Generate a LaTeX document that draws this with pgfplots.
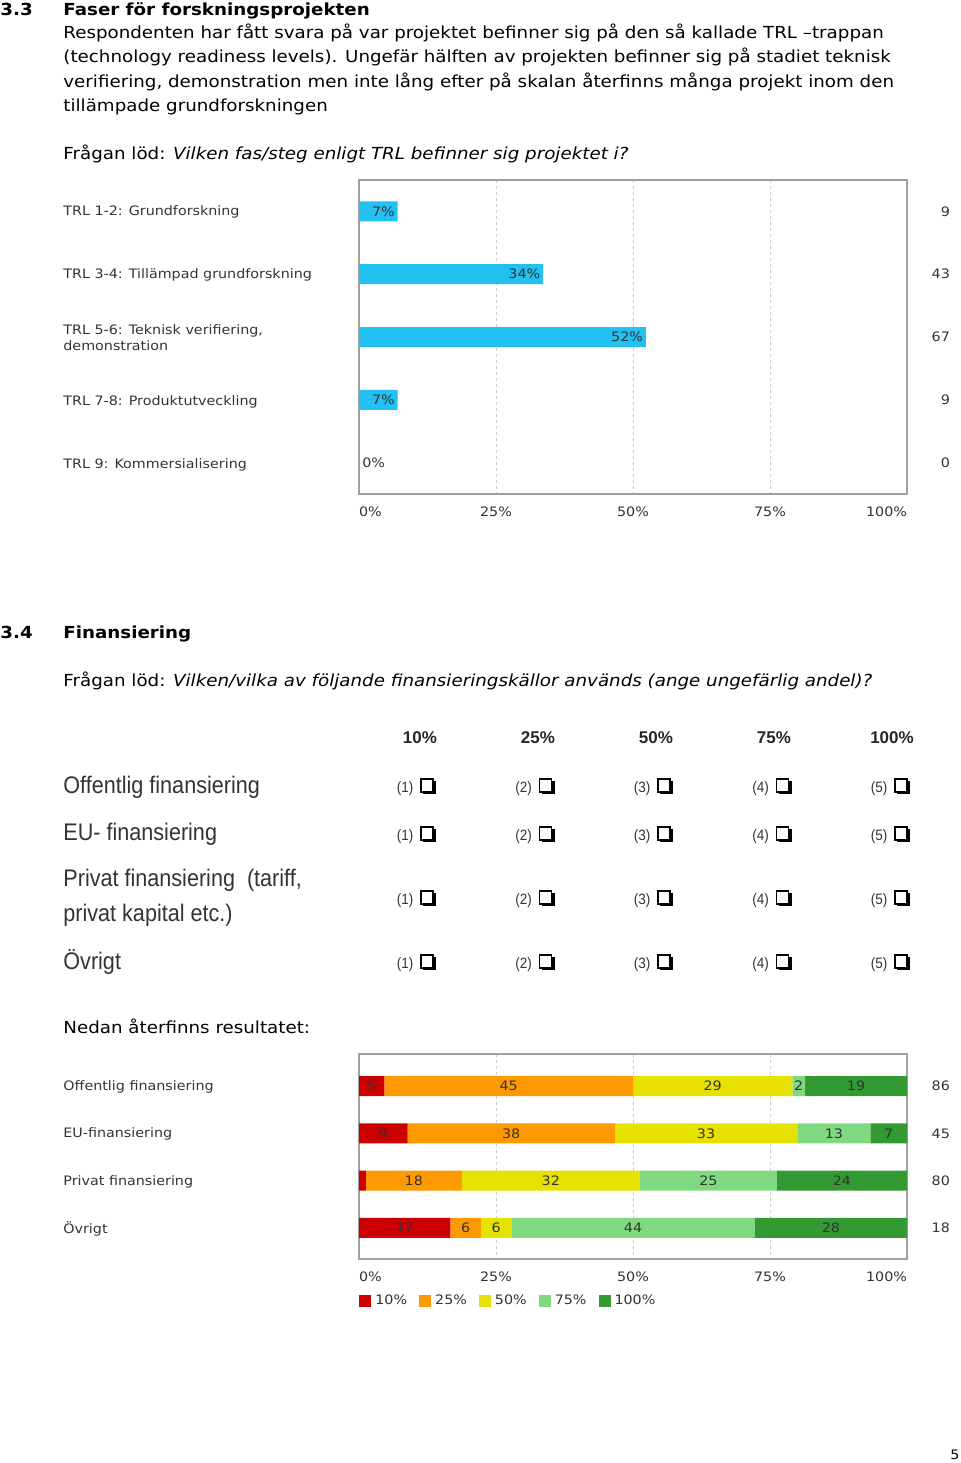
\documentclass[border=0pt]{standalone}
\usepackage{fontspec}
\setmainfont{DejaVu Sans}[FakeStretch=1.1]
\newfontfamily\arialn[FakeStretch=0.9]{Liberation Sans}
\newfontfamily\arialb{Liberation Sans}
\usepackage{pgfplots}
\pgfplotsset{compat=1.18}
\definecolor{barblue}{HTML}{22C1F1}
\definecolor{c10}{HTML}{CC0000}
\definecolor{c25}{HTML}{FF9900}
\definecolor{c50}{HTML}{E6E100}
\definecolor{c75}{HTML}{80D880}
\definecolor{c100}{HTML}{339933}
\definecolor{axgray}{HTML}{A0A0A0}
\definecolor{txt}{HTML}{333333}
\newcommand\fbody{\fontsize{8.3pt}{12pt}\selectfont}
\newcommand\fsmall{\fontsize{6.5pt}{8pt}\selectfont}
\pgfplotsset{
  mychart/.style={
    scale only axis, width=274pt, xmin=0, xmax=100, y dir=reverse,
    ytick=\empty, xtick={0,25,50,75,100},
    xticklabels={\makebox[0pt][l]{0\%},25\%,50\%,75\%,\makebox[0pt][r]{100\%}},
    xmajorgrids, grid style={gray!40, line width=0.4pt, dash pattern=on 1.5pt off 1.5pt},
    axis line style={axgray, line width=0.8pt},
    major tick length=0pt,
    tick label style={font=\fsmall, text=txt},
    xticklabel style={yshift=-3pt},
    /pgf/number format/assume math mode=true,
    clip=false,
  },
  legimg/.style={legend image code/.code={\draw[##1, draw=none] (0pt,-3pt) rectangle (6pt,3pt);}},
}
\begin{document}
\begin{tikzpicture}
\path[use as bounding box] (0pt,0pt) rectangle (480pt,-731.5pt);
\begin{scope}[x=0.5pt,y=-0.5pt]
% ---- 3.3 ----
\node[anchor=base west, inner sep=0pt, font=\fbody\bfseries] at (0,15) {3.3};
\node[anchor=base west, inner sep=0pt, font=\fbody\bfseries] at (63,15) {Faser för forskningsprojekten};
\node[anchor=base west, inner sep=0pt, font=\fbody] at (63,38) {Respondenten har fått svara på var projektet befinner sig på den så kallade TRL –trappan};
\node[anchor=base west, inner sep=0pt, font=\fbody] at (63,62) {(technology readiness levels). Ungefär hälften av projekten befinner sig på stadiet teknisk};
\node[anchor=base west, inner sep=0pt, font=\fbody] at (63,87) {verifiering, demonstration men inte lång efter på skalan återfinns många projekt inom den};
\node[anchor=base west, inner sep=0pt, font=\fbody] at (63,111) {tillämpade grundforskningen};
\node[anchor=base west, inner sep=0pt, font=\fbody] at (63,159) {Frågan löd: \textit{Vilken fas/steg enligt TRL befinner sig projektet i?}};
% chart 1 labels
\node[anchor=west, inner sep=0pt, font=\fsmall, text=txt] at (63,212) {TRL 1-2: Grundforskning};
\node[anchor=west, inner sep=0pt, font=\fsmall, text=txt] at (63,275) {TRL 3-4: Tillämpad grundforskning};
\node[anchor=west, inner sep=0pt, font=\fsmall, text=txt, align=left] at (63,338) {TRL 5-6: Teknisk verifiering,\\demonstration};
\node[anchor=west, inner sep=0pt, font=\fsmall, text=txt] at (63,402) {TRL 7-8: Produktutveckling};
\node[anchor=west, inner sep=0pt, font=\fsmall, text=txt] at (63,465) {TRL 9: Kommersialisering};
% ---- 3.4 ----
\node[anchor=base west, inner sep=0pt, font=\fbody\bfseries] at (0,638) {3.4};
\node[anchor=base west, inner sep=0pt, font=\fbody\bfseries] at (63,638) {Finansiering};
\node[anchor=base west, inner sep=0pt, font=\fbody] at (63,686) {Frågan löd: \textit{Vilken/vilka av följande finansieringskällor används (ange ungefärlig andel)?}};
% form
\foreach \h [count=\i from 0] in {10,25,50,75,100}{
  \node[font=\arialb\fontsize{8.5pt}{9pt}\selectfont\bfseries, text=black!85] at (420+118*\i,738) {\h\%};
}
\node[anchor=west, inner sep=0pt, font=\arialn\fontsize{12pt}{13pt}\selectfont, text=txt] at (63,787) {Offentlig finansiering};
\node[anchor=west, inner sep=0pt, font=\arialn\fontsize{12pt}{13pt}\selectfont, text=txt] at (63,834) {EU- finansiering};
\node[anchor=west, inner sep=0pt, font=\arialn\fontsize{12pt}{13pt}\selectfont, text=txt] at (63,880) {Privat finansiering\ \ (tariff,};
\node[anchor=west, inner sep=0pt, font=\arialn\fontsize{12pt}{13pt}\selectfont, text=txt] at (63,915) {privat kapital etc.)};
\node[anchor=west, inner sep=0pt, font=\arialn\fontsize{12pt}{13pt}\selectfont, text=txt] at (63,962) {Övrigt};
\foreach \r in {787,835,899,963}{
  \foreach \k [count=\i] in {0,1,2,3,4}{
    \pgfmathsetmacro\xl{405+118.5*\k}
    \pgfmathsetmacro\xb{421+118.5*\k}
    \node[font=\arialn\fontsize{7.5pt}{8pt}\selectfont, text=txt] at (\xl,\r+2) {(\i)};
    \fill[black] (\xb+2,\r-6) rectangle (\xb+15,\r+7);
    \fill[white] (\xb,\r-8) rectangle (\xb+12,\r+5);
    \draw[black,line width=0.7pt] (\xb,\r-8) rectangle (\xb+12,\r+5);
  }
}
\node[anchor=base west, inner sep=0pt, font=\fbody] at (63,1033) {Nedan återfinns resultatet:};
% chart 2 labels
\node[anchor=west, inner sep=0pt, font=\fsmall, text=txt] at (63,1087) {Offentlig finansiering};
\node[anchor=west, inner sep=0pt, font=\fsmall, text=txt] at (63,1134) {EU-finansiering};
\node[anchor=west, inner sep=0pt, font=\fsmall, text=txt] at (63,1182) {Privat finansiering};
\node[anchor=west, inner sep=0pt, font=\fsmall, text=txt] at (63,1229) {Övrigt};
\node[font=\fsmall] at (955,1455) {5};
\end{scope}

% ---- chart 1 ----
\begin{axis}[mychart, at={(179.5pt,-247pt)}, anchor=south west, height=157pt,
  ymin=0.5, ymax=5.5, xbar, bar width=10pt, bar shift=0pt, point meta=x]
\addplot[fill=barblue, draw=none,
  nodes near coords={\pgfmathprintnumber[fixed,precision=0]{\pgfplotspointmeta}\%},
  nodes near coords style={anchor=east, inner sep=1.2pt, font=\fsmall, text=txt}]
  coordinates {(7.03,1) (33.59,2) (52.34,3) (7.03,4)};
\addplot[fill=barblue, draw=none,
  nodes near coords={0\%},
  nodes near coords style={anchor=west, inner sep=1.5pt, font=\fsmall, text=txt}]
  coordinates {(0,5)};
\foreach \n [count=\i] in {9,43,67,9,0}{
  \edef\tmp{\noexpand\node[anchor=east, xshift=25pt, font=\noexpand\fsmall, text=txt] at (axis cs:100,\i) {\n};}
  \tmp
}
\end{axis}

% ---- chart 2 ----
\begin{axis}[mychart, at={(179.5pt,-629.5pt)}, anchor=south west, height=102.5pt,
  ymin=0.32, ymax=4.66, xbar stacked, bar width=10pt,
  point meta=explicit symbolic,
  visualization depends on=rawx \as \rawx,
  nodes near coords={\ifdim\rawx pt<1.5pt\else\pgfplotspointmeta\fi},
  nodes near coords style={anchor=center, font=\fsmall, text=txt},
  legend columns=-1,
  legend style={at={(0,-0.205)}, anchor=west, draw=none, fill=none, font=\fsmall, text=txt, inner sep=0pt,
    /tikz/every even column/.append style={column sep=4pt}},
]
\addplot[fill=c10, draw=none, legimg] coordinates {(4.65,1)[5] (8.89,2)[9] (1.25,3)[1] (16.67,4)[17]};
\addplot[fill=c25, draw=none, legimg] coordinates {(45.35,1)[45] (37.78,2)[38] (17.5,3)[18] (5.56,4)[6]};
\addplot[fill=c50, draw=none, legimg] coordinates {(29.07,1)[29] (33.33,2)[33] (32.5,3)[32] (5.56,4)[6]};
\addplot[fill=c75, draw=none, legimg] coordinates {(2.33,1)[2] (13.33,2)[13] (25,3)[25] (44.44,4)[44]};
\addplot[fill=c100, draw=none, legimg] coordinates {(18.6,1)[19] (6.67,2)[7] (23.75,3)[24] (27.78,4)[28]};
\legend{10\%,25\%,50\%,75\%,100\%}
\foreach \n [count=\i] in {86,45,80,18}{
  \edef\tmp{\noexpand\node[anchor=east, xshift=25pt, font=\noexpand\fsmall, text=txt] at (axis cs:100,\i) {\n};}
  \tmp
}
\end{axis}
\end{tikzpicture}
\end{document}
